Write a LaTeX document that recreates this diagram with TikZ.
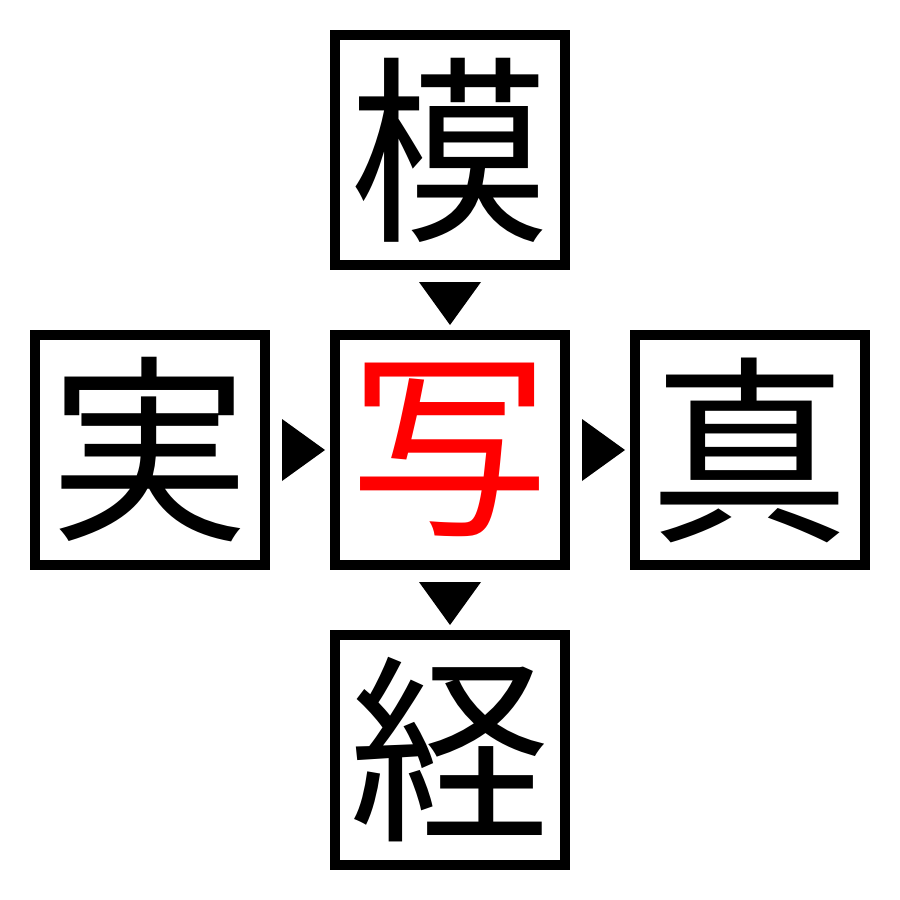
\documentclass[tikz,border=0pt]{standalone}
\usepackage{fontspec}
\newfontfamily\cjk{Noto Sans CJK JP}
\begin{document}
\begin{tikzpicture}[x=0.1mm,y=-0.1mm,
  kbox/.style={draw=black,line width=1mm,minimum size=23mm,inner sep=0pt,outer sep=0pt,font=\cjk\fontsize{57}{57}\selectfont},
  tri/.style={fill=black,draw=none}]
\useasboundingbox (0,0) rectangle (900,900);
\node[kbox] (top) at (450,150) {模};
\node[kbox,text=red] (mid) at (450,450) {写};
\node[kbox] (left) at (150,450) {実};
\node[kbox] (right) at (750,450) {真};
\node[kbox] (bot) at (450,750) {経};
\fill[tri] (419,282) -- (481,282) -- (450,325) -- cycle;
\fill[tri] (419,582) -- (481,582) -- (450,625) -- cycle;
\fill[tri] (282,419) -- (282,481) -- (325,450) -- cycle;
\fill[tri] (582,419) -- (582,481) -- (625,450) -- cycle;
\end{tikzpicture}
\end{document}
